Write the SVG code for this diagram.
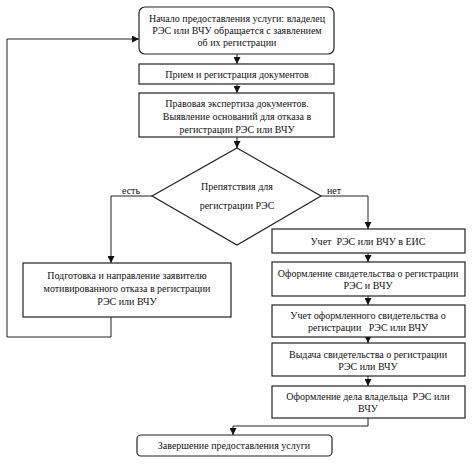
<svg xmlns="http://www.w3.org/2000/svg" width="474" height="468" viewBox="0 0 474 468">
<defs>
<marker id="ah" viewBox="0 0 8 8" refX="8" refY="4" markerWidth="7" markerHeight="7" markerUnits="userSpaceOnUse" orient="auto">
<path d="M0,0 L8,4 L0,8 Z" fill="#111"/>
</marker>
<style>
.b{fill:#fff;stroke:#222;stroke-width:1.2}
.t{font-family:"Liberation Serif","Times New Roman",serif;font-size:10px;fill:#111;text-anchor:middle;white-space:pre}
.c{fill:none;stroke:#222;stroke-width:1}
.a{marker-end:url(#ah)}
</style>
</defs>
<rect width="474" height="468" fill="#fff"/>
<g id="connectors">
<polyline class="c a" points="111,317 111,337 7,337 7,39 139,39"/>
<line class="c a" x1="237" y1="54" x2="237" y2="64"/>
<line class="c a" x1="237" y1="84" x2="237" y2="93"/>
<line class="c a" x1="237" y1="137" x2="237" y2="148"/>
<polyline class="c a" points="152,196 111,196 111,263"/>
<polyline class="c a" points="321,196 368,196 368,229"/>
<line class="c a" x1="368" y1="253" x2="368" y2="262"/>
<line class="c a" x1="368" y1="296" x2="368" y2="305"/>
<line class="c a" x1="368" y1="337" x2="368" y2="343"/>
<line class="c a" x1="368" y1="376" x2="368" y2="386"/>
<polyline class="c a" points="368,418 368,426 233,426 233,435"/>
<text class="t" x="131" y="194">есть</text>
<text class="t" x="334" y="194">нет</text>
</g>
<g id="start">
<rect class="b" x="139" y="7" width="195" height="47" rx="6"/>
<text class="t" x="237" y="22">Начало предоставления услуги: владелец</text>
<text class="t" x="237" y="34">РЭС или ВЧУ обращается с заявлением</text>
<text class="t" x="237" y="46">об их регистрации</text>
</g>
<g id="reception">
<rect class="b" x="139" y="64" width="195" height="20"/>
<text class="t" x="237" y="78">Прием и регистрация документов</text>
</g>
<g id="expertise">
<rect class="b" x="139" y="93" width="195" height="44"/>
<text class="t" x="237" y="107">Правовая экспертиза документов.</text>
<text class="t" x="237" y="120">Выявление оснований для отказа в</text>
<text class="t" x="237" y="133">регистрации РЭС или ВЧУ</text>
</g>
<g id="decision">
<polygon class="b" points="237,148 321,196 237,245 152,196"/>
<text class="t" x="237" y="190">Препятствия для</text>
<text class="t" x="237" y="209">регистрации РЭС</text>
</g>
<g id="refusal">
<rect class="b" x="23" y="263" width="208" height="54"/>
<text class="t" x="127" y="279">Подготовка и направление заявителю</text>
<text class="t" x="127" y="292">мотивированного отказа в регистрации</text>
<text class="t" x="127" y="305">РЭС или ВЧУ</text>
</g>
<g id="accounting">
<rect class="b" x="272" y="229" width="193" height="24"/>
<text class="t" x="368" y="245">Учет  РЭС или ВЧУ в ЕИС</text>
</g>
<g id="certificate">
<rect class="b" x="272" y="262" width="193" height="34"/>
<text class="t" x="368" y="277">Оформление свидетельства о регистрации</text>
<text class="t" x="368" y="289">РЭС и ВЧУ</text>
</g>
<g id="cert-accounting">
<rect class="b" x="272" y="305" width="193" height="32"/>
<text class="t" x="368" y="319">Учет оформленного свидетельства о</text>
<text class="t" x="368" y="331">регистрации   РЭС или ВЧУ</text>
</g>
<g id="issue">
<rect class="b" x="272" y="343" width="193" height="33"/>
<text class="t" x="368" y="358">Выдача свидетельства о регистрации</text>
<text class="t" x="368" y="370">РЭС или ВЧУ</text>
</g>
<g id="case">
<rect class="b" x="272" y="386" width="193" height="32"/>
<text class="t" x="368" y="400">Оформление дела владельца  РЭС или</text>
<text class="t" x="368" y="412">ВЧУ</text>
</g>
<g id="end">
<rect class="b" x="137" y="435" width="195" height="21" rx="4"/>
<text class="t" x="234" y="449">Завершение предоставления услуги</text>
</g>
</svg>
